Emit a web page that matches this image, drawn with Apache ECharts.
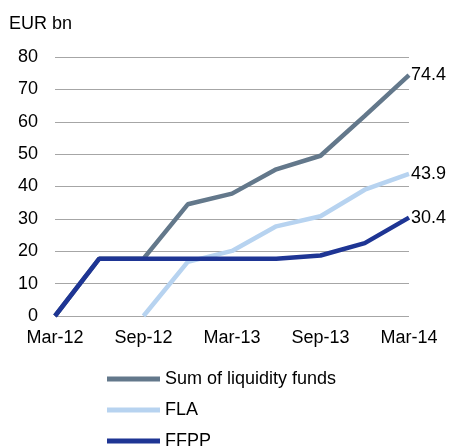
<!DOCTYPE html>
<html>
<head>
<meta charset="utf-8">
<script src="https://cdn.jsdelivr.net/npm/echarts@6/dist/echarts.min.js"></script>
<style>
html, body { margin: 0; padding: 0; background: #fff; }
#main { width: 449px; height: 447px; }
</style>
</head>
<body>
<div id="main"></div>
<script>
var categories = ['Mar-12', 'Jun-12', 'Sep-12', 'Dec-12', 'Mar-13', 'Jun-13', 'Sep-13', 'Dec-13', 'Mar-14'];
var sumFunds = [0, 17.7, 17.7, 34.5, 37.8, 45.3, 49.5, 61.8, 74.4];
var fla = ['-', '-', 0, 16.7, 20.1, 27.7, 30.8, 39.0, 43.9];
var ffpp = [0, 17.7, 17.7, 17.7, 17.7, 17.7, 18.7, 22.5, 30.4];
var seriesNames = ['Sum of liquidity funds', 'FLA', 'FFPP'];

var font = 'Liberation Sans, Arial, sans-serif';

function makeLine(name, color, data) {
    return {
        name: name,
        type: 'line',
        data: data,
        showSymbol: false,
        symbol: 'none',
        lineStyle: { width: 4.5, color: color },
        itemStyle: { color: color },
        endLabel: {
            show: true,
            distance: 2,
            color: '#000',
            fontFamily: font,
            fontSize: 18,
            formatter: function (p) { return p.value; }
        }
    };
}

// one legend per item so the list stays in one column
function makeLegend(name, top) {
    return {
        orient: 'vertical',
        left: 107,
        top: top,
        padding: 0,
        icon: 'rect',
        itemWidth: 53,
        itemHeight: 5,
        textStyle: { fontFamily: font, fontSize: 18, color: '#000' },
        data: [name]
    };
}

var option = {
    animation: false,
    title: {
        text: 'EUR bn',
        left: 4,
        top: 10,
        textStyle: { fontFamily: font, fontSize: 18, fontWeight: 'normal', color: '#000' }
    },
    legend: [
        makeLegend(seriesNames[0], 370),
        makeLegend(seriesNames[1], 401),
        makeLegend(seriesNames[2], 432)
    ],
    grid: {
        left: 55,
        right: 40,
        top: 57,
        bottom: 131
    },
    xAxis: {
        type: 'category',
        boundaryGap: false,
        data: categories,
        axisLine: { show: false },
        axisTick: { show: false },
        splitLine: { show: false },
        axisLabel: {
            interval: 1,
            margin: 13,
            fontFamily: font,
            fontSize: 18,
            color: '#000'
        }
    },
    yAxis: {
        type: 'value',
        min: 0,
        max: 80,
        interval: 10,
        axisLine: { show: false },
        axisTick: { show: false },
        splitLine: { lineStyle: { color: '#a6a6a6', width: 1.2 } },
        axisLabel: {
            margin: 17,
            fontFamily: font,
            fontSize: 18,
            color: '#000'
        }
    },
    series: [
        makeLine(seriesNames[0], '#63788b', sumFunds),
        makeLine(seriesNames[1], '#b7d3f0', fla),
        makeLine(seriesNames[2], '#1e3594', ffpp)
    ]
};

var chart = echarts.init(document.getElementById('main'));
chart.setOption(option);
</script>
</body>
</html>
